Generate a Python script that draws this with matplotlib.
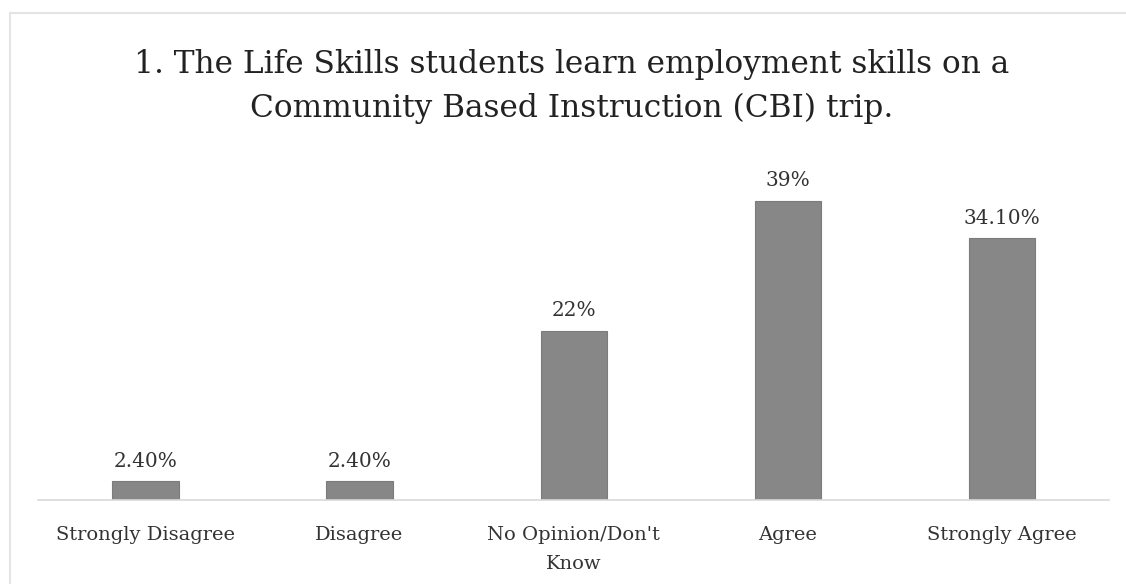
import numpy as np
import matplotlib.pyplot as plt
from matplotlib.patches import Rectangle

plt.rcParams['font.family'] = 'DejaVu Serif'

# data
categories = ['Strongly Disagree', 'Disagree', "No Opinion/Don't\nKnow", 'Agree', 'Strongly Agree']
values = [2.4, 2.4, 22, 39, 34.1]
labels = ['2.40%', '2.40%', '22%', '39%', '34.10%']

fig = plt.figure(figsize=(11.26, 5.84), dpi=100)
ax = fig.add_axes([0.034, 0.144, 0.951, 0.591])

x = np.arange(len(categories))
bars = ax.bar(x, values, width=0.31, color='#878787', edgecolor='#7c7c7c', linewidth=0.8)

for b, lab in zip(bars, labels):
    ax.text(b.get_x() + b.get_width() / 2, b.get_height() + 1.4, lab,
            ha='center', va='bottom', fontsize=14.5, color='#333333')

ax.set_xlim(-0.5, 4.5)
ax.set_ylim(0, 45)
ax.set_xticks(x)
ax.set_xticklabels(categories, fontsize=14, color='#333333', linespacing=1.75)
ax.tick_params(axis='x', length=0, pad=19)
ax.set_yticks([])
for s in ['top', 'right', 'left']:
    ax.spines[s].set_visible(False)
ax.spines['bottom'].set_color('#d9d9d9')
ax.spines['bottom'].set_linewidth(1.2)

fig.text(0.508, 0.852, '1. The Life Skills students learn employment skills on a\nCommunity Based Instruction (CBI) trip.',
         ha='center', va='center', fontsize=22.5, color='#222222', linespacing=1.55)

# faint chart border
fig.patches.append(Rectangle((0.009, -0.01), 1.0, 0.987, transform=fig.transFigure,
                             fill=False, edgecolor='#e4e4e4', linewidth=1.5))

fig.savefig('out.png', dpi=100)
